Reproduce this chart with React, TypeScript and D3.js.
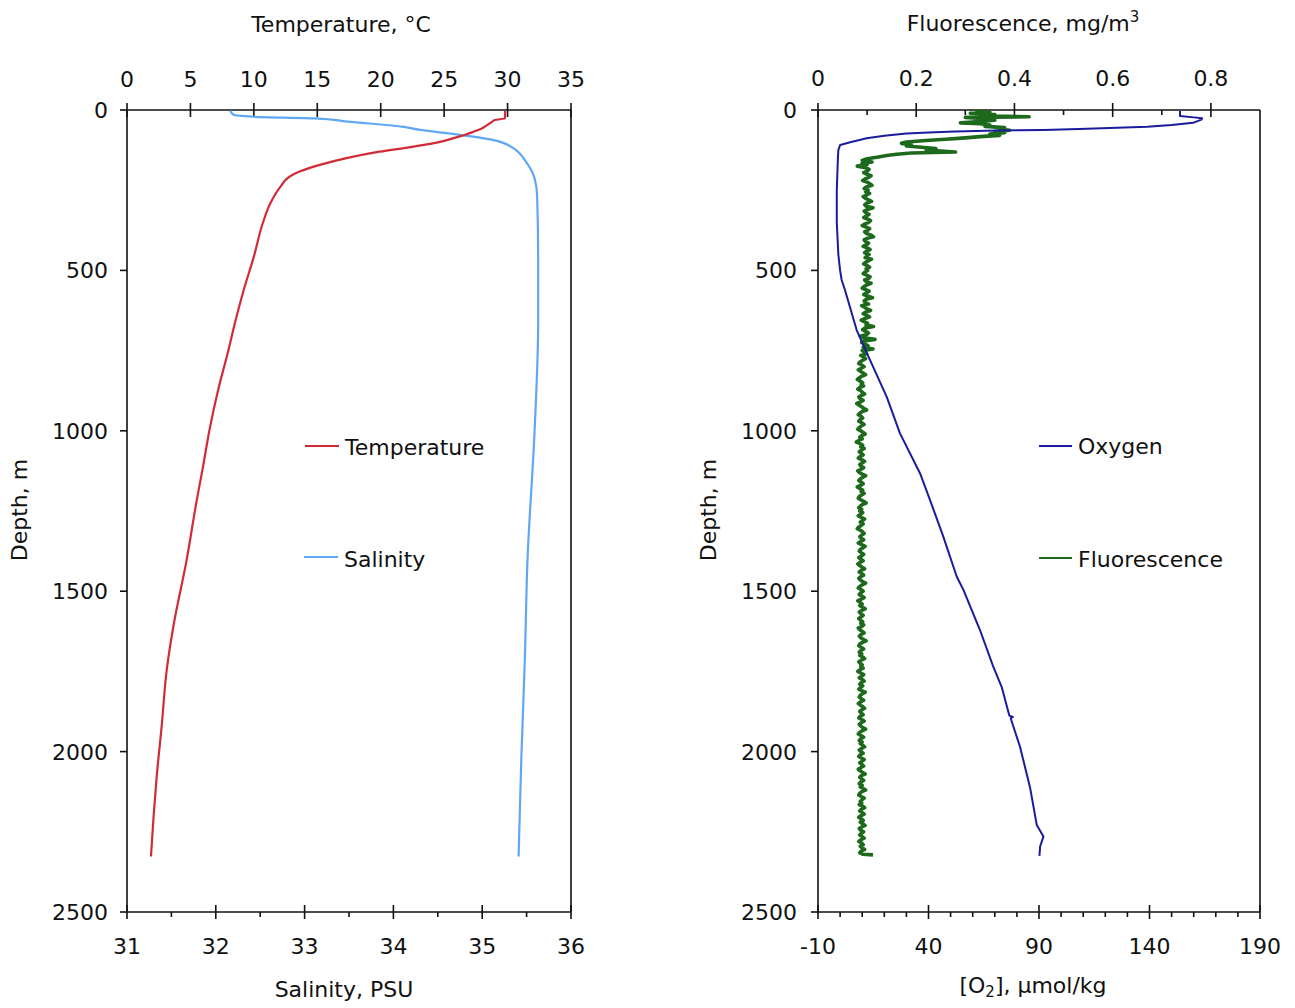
import React from "react";
import * as d3 from "d3";

// ---------- tick values ----------
const depthTicks = [0, 500, 1000, 1500, 2000, 2500];
const tempTicks = [0, 5, 10, 15, 20, 25, 30, 35];
const salTicks = [31, 32, 33, 34, 35, 36];
const salMinor = [31.5, 32.5, 33.5, 34.5, 35.5];
const fluoTicks = [0, 0.2, 0.4, 0.6, 0.8];
const fluoMinor = [0.1, 0.3, 0.5, 0.7];
const o2Ticks = [-10, 40, 90, 140, 190];
const o2Minor = [0, 10, 20, 30, 50, 60, 70, 80, 100, 110, 120, 130, 150, 160, 170, 180];

// ---------- series: [depth m, value] ----------
const temperature: [number, number][] = [
  [2, 29.8], [26, 29.8], [31, 29.0], [36, 28.8], [47, 28.4], [57, 28.0], [68, 27.3], [78, 26.6],
  [86, 25.9], [93, 25.3], [100, 24.6], [114, 22.6], [130, 19.9], [150, 17.3], [171, 15.2],
  [192, 13.6], [208, 12.8], [239, 12.1], [291, 11.3], [353, 10.7], [457, 10.0], [561, 9.2],
  [665, 8.5], [748, 8.0], [870, 7.2], [998, 6.5], [1110, 6.0], [1216, 5.5], [1403, 4.7],
  [1611, 3.65], [1746, 3.13], [1922, 2.73], [2078, 2.34], [2200, 2.1], [2327, 1.89],
];

const salinity: [number, number][] = [
  [2, 32.16], [15, 32.2], [21, 32.42], [26, 33.12], [36, 33.48], [52, 34.1], [62, 34.3],
  [72, 34.6], [83, 34.9], [94, 35.13], [104, 35.25], [119, 35.35], [135, 35.42], [156, 35.48],
  [197, 35.57], [240, 35.61], [281, 35.62], [457, 35.63], [664, 35.63], [1000, 35.59],
  [1403, 35.51], [1714, 35.48], [2026, 35.44], [2327, 35.41],
];

const oxygen: [number, number][] = [
  [3, 153.8], [19, 153.8], [23, 160], [26, 163.8], [30, 163.5], [40, 159.7], [47, 150],
  [52, 139], [56, 122], [59, 108], [62, 92], [64, 71], [67, 52], [70, 40], [73, 30],
  [80, 20], [88, 12], [100, 5], [109, 0], [125, -0.8], [150, -1], [250, -1.5], [350, -1.5],
  [450, -0.8], [500, 0], [530, 0.7], [561, 2.2], [686, 7.5], [779, 13.5], [894, 21.1],
  [1008, 27.1], [1133, 36.2], [1216, 40.7], [1330, 46.7], [1455, 52.8], [1496, 55.8],
  [1621, 63.3], [1735, 69.3], [1798, 73.1], [1888, 76.6], [1892, 78.2], [1896, 77.2],
  [1985, 81.4], [2110, 85.9], [2229, 89], [2265, 92], [2296, 90.5], [2325, 90.2],
];

const fluoSurface: [number, number][] = [
  [3, 0.32], [7, 0.35], [10, 0.31], [14, 0.36], [18, 0.33], [21, 0.43], [23, 0.30], [27, 0.34],
  [32, 0.36], [36, 0.33], [40, 0.29], [43, 0.33], [47, 0.35], [51, 0.34], [55, 0.38], [59, 0.37],
  [63, 0.39], [67, 0.36], [71, 0.38], [75, 0.35], [79, 0.37], [83, 0.33], [87, 0.30], [91, 0.26],
  [95, 0.22], [100, 0.18], [104, 0.17], [108, 0.19], [112, 0.18], [116, 0.21], [120, 0.24],
  [124, 0.22], [128, 0.25], [131, 0.28], [134, 0.19], [138, 0.16], [142, 0.14], [147, 0.12],
  [152, 0.10], [157, 0.09], [162, 0.11], [166, 0.09], [170, 0.10], [175, 0.08],
];

// deep fluorescence, sampled every 5 m from 180 m
const fluoDeepStart = 180;
const fluoDeepStep = 5;
const fluoDeep = [
  0.097, 0.104, 0.101, 0.093, 0.099, 0.108, 0.103, 0.096, 0.091, 0.100, 0.106, 0.110, 0.098, 0.094, 0.102, 0.097, 0.105, 0.099, 0.092, 0.096,
  0.103, 0.109, 0.100, 0.095, 0.098, 0.112, 0.101, 0.094, 0.097, 0.104, 0.099, 0.093, 0.101, 0.107, 0.103, 0.096, 0.090, 0.098, 0.105, 0.101,
  0.095, 0.099, 0.108, 0.113, 0.100, 0.094, 0.097, 0.103, 0.098, 0.092, 0.101, 0.106, 0.099, 0.095, 0.104, 0.100, 0.096, 0.109, 0.102, 0.097,
  0.093, 0.100, 0.105, 0.098,
  0.101, 0.096, 0.092, 0.099, 0.106, 0.103, 0.095, 0.098, 0.108, 0.100, 0.094, 0.090, 0.097, 0.104, 0.099, 0.093, 0.101, 0.111, 0.098, 0.094,
  0.096, 0.103, 0.089, 0.095, 0.100, 0.107, 0.097, 0.092, 0.099, 0.105, 0.096, 0.088, 0.094, 0.101, 0.098, 0.113, 0.095, 0.091, 0.097, 0.103,
  0.099, 0.086, 0.093, 0.116, 0.094, 0.089, 0.096, 0.102, 0.092, 0.112, 0.090, 0.095, 0.099, 0.087, 0.093, 0.097,
  0.091, 0.086, 0.083, 0.089, 0.094, 0.088, 0.082, 0.087, 0.092, 0.097, 0.089, 0.084, 0.080, 0.086, 0.091, 0.088, 0.093, 0.085, 0.081, 0.087,
  0.090, 0.095, 0.088, 0.083, 0.086, 0.092, 0.087, 0.079, 0.084, 0.089, 0.093, 0.099, 0.090, 0.085, 0.082, 0.088, 0.091, 0.086, 0.083, 0.089,
  0.094, 0.088, 0.084, 0.081, 0.087, 0.092, 0.096, 0.089, 0.085, 0.090, 0.083, 0.078, 0.086, 0.091, 0.087, 0.094, 0.089, 0.084, 0.088, 0.092,
  0.086, 0.082, 0.089, 0.095, 0.090, 0.085, 0.087, 0.093, 0.088, 0.081, 0.084, 0.090, 0.097, 0.091, 0.086, 0.083, 0.088, 0.092, 0.087, 0.080,
  0.085, 0.091, 0.088, 0.094, 0.089, 0.084, 0.082, 0.087, 0.093, 0.098, 0.090, 0.086, 0.083, 0.089, 0.085, 0.091, 0.087, 0.082, 0.088, 0.095,
  0.090, 0.086, 0.092, 0.088, 0.083, 0.080, 0.086, 0.091, 0.094, 0.089, 0.085, 0.088, 0.093, 0.087, 0.082, 0.089, 0.096, 0.091, 0.086, 0.084,
  0.088, 0.093, 0.089, 0.083, 0.087, 0.092, 0.086, 0.081, 0.085, 0.090, 0.095, 0.088, 0.084, 0.089, 0.093, 0.087, 0.083, 0.086, 0.091, 0.097,
  0.090, 0.085, 0.082, 0.088, 0.092, 0.087, 0.084, 0.089, 0.094, 0.088, 0.081, 0.086, 0.090, 0.085, 0.091, 0.096, 0.089, 0.084, 0.087, 0.092,
  0.088, 0.083, 0.086, 0.091, 0.087, 0.093, 0.089, 0.082, 0.085, 0.090, 0.094, 0.088, 0.084, 0.087, 0.092, 0.098, 0.090, 0.085, 0.083, 0.088,
  0.093, 0.087, 0.084, 0.089, 0.085, 0.091, 0.095, 0.088, 0.083, 0.086, 0.090, 0.087, 0.092, 0.085, 0.081, 0.087, 0.093, 0.089, 0.084, 0.090,
  0.094, 0.088, 0.085, 0.091, 0.087, 0.083, 0.089, 0.096, 0.090, 0.086, 0.084, 0.088, 0.093, 0.087, 0.082, 0.086, 0.091, 0.095, 0.089, 0.085,
  0.088, 0.092, 0.086, 0.083, 0.089, 0.094, 0.088, 0.084, 0.087, 0.091, 0.097, 0.090, 0.085, 0.082, 0.088, 0.093, 0.087, 0.084, 0.090, 0.086,
  0.091, 0.095, 0.089, 0.084, 0.087, 0.092, 0.086, 0.083, 0.088, 0.094, 0.090, 0.085, 0.089, 0.093, 0.087, 0.082, 0.086, 0.091, 0.096, 0.088,
  0.085, 0.089, 0.093, 0.087, 0.084, 0.090, 0.086, 0.092, 0.097, 0.089, 0.085, 0.083, 0.088, 0.094, 0.090, 0.086, 0.089, 0.084, 0.091, 0.095,
  0.088, 0.085, 0.090, 0.094, 0.087, 0.083, 0.089, 0.092, 0.086, 0.091, 0.096, 0.089, 0.084, 0.087, 0.093, 0.088, 0.085, 0.090, 0.094, 0.087,
  0.083, 0.089, 0.092, 0.086, 0.090, 0.095, 0.088, 0.085, 0.091,
];
const fluoEnd: [number, number][] = [[2322, 0.112]];

const COLORS = {
  temp: "#d22b38",
  sal: "#5fa8f4",
  oxy: "#1b1b9e",
  fluo: "#1d6a1d",
};

const FONT = "'DejaVu Sans', Verdana, sans-serif";
const FS = 22;

const W = 1295;
const H = 1008;
const yTop = 110;
const yBot = 912;

export default function App() {
  const yScale = d3.scaleLinear().domain([0, 2500]).range([yTop, yBot]);
  const L = { x0: 127, x1: 571 };
  const R = { x0: 818, x1: 1260 };
  const tScale = d3.scaleLinear().domain([0, 35]).range([L.x0, L.x1]);
  const sScale = d3.scaleLinear().domain([31, 36]).range([L.x0, L.x1]);
  const fScale = d3.scaleLinear().domain([0, 0.9]).range([R.x0, R.x1]);
  const oScale = d3.scaleLinear().domain([-10, 190]).range([R.x0, R.x1]);

  const mkLine = (xs: d3.ScaleLinear<number, number>, curve: d3.CurveFactory) =>
    d3
      .line<[number, number]>()
      .x((d) => xs(d[1]))
      .y((d) => yScale(d[0]))
      .curve(curve);

  const fluoAll: [number, number][] = [
    ...fluoSurface,
    ...fluoDeep.map((v, i) => [fluoDeepStart + i * fluoDeepStep, v] as [number, number]),
    ...fluoEnd,
  ];

  const tPath = mkLine(tScale, d3.curveMonotoneY)(temperature) || "";
  const sPath = mkLine(sScale, d3.curveMonotoneY)(salinity) || "";
  const oPath = mkLine(oScale, d3.curveLinear)(oxygen) || "";
  const fPath = mkLine(fScale, d3.curveLinear)(fluoAll) || "";

  const axisStroke = "#111";
  const axisW = 1.6;

  const depthAxis = (x0: number, labelX: number) => (
    <g>
      <line x1={x0} x2={x0} y1={yTop} y2={yBot} stroke={axisStroke} strokeWidth={axisW} />
      {depthTicks.map((t) => (
        <g key={"d" + t}>
          <line x1={x0 - 7} x2={x0} y1={yScale(t)} y2={yScale(t)} stroke={axisStroke} strokeWidth={axisW} />
          <text x={labelX} y={yScale(t)} dy="0.36em" textAnchor="end" fontSize={FS} fontFamily={FONT} fill="#111">
            {t}
          </text>
        </g>
      ))}
    </g>
  );

  return (
    <svg
      width={W}
      height={H}
      style={{ position: "absolute", left: 0, top: 0, background: "#fff" }}
      fontFamily={FONT}
    >
      <rect x={0} y={0} width={W} height={H} fill="#fff" />

      {/* ===== LEFT PANEL ===== */}
      {depthAxis(L.x0, 108)}
      <line x1={L.x1} x2={L.x1} y1={yTop} y2={yBot} stroke={axisStroke} strokeWidth={axisW} />
      {/* top temperature axis */}
      <line x1={L.x0} x2={L.x1} y1={yTop} y2={yTop} stroke={axisStroke} strokeWidth={axisW} />
      {tempTicks.map((t) => (
        <g key={"t" + t}>
          <line x1={tScale(t)} x2={tScale(t)} y1={yTop - 7} y2={yTop + 7} stroke={axisStroke} strokeWidth={axisW} />
          <text x={tScale(t)} y={87} textAnchor="middle" fontSize={FS} fill="#111">
            {t}
          </text>
        </g>
      ))}
      <text x={341} y={32} textAnchor="middle" fontSize={FS} fill="#111">
        Temperature, °C
      </text>
      {/* bottom salinity axis */}
      <line x1={L.x0} x2={L.x1} y1={yBot} y2={yBot} stroke={axisStroke} strokeWidth={axisW} />
      {salTicks.map((t) => (
        <g key={"s" + t}>
          <line x1={sScale(t)} x2={sScale(t)} y1={yBot - 7} y2={yBot + 7} stroke={axisStroke} strokeWidth={axisW} />
          <text x={sScale(t)} y={954} textAnchor="middle" fontSize={FS} fill="#111">
            {t}
          </text>
        </g>
      ))}
      {salMinor.map((t) => (
        <line key={"sm" + t} x1={sScale(t)} x2={sScale(t)} y1={yBot} y2={yBot + 5} stroke={axisStroke} strokeWidth={axisW} />
      ))}
      <text x={344} y={997} textAnchor="middle" fontSize={FS} fill="#111">
        Salinity, PSU
      </text>
      <text transform="translate(27,510) rotate(-90)" textAnchor="middle" fontSize={FS} fill="#111">
        Depth, m
      </text>

      <path d={sPath} fill="none" stroke={COLORS.sal} strokeWidth={2.2} />
      <path d={tPath} fill="none" stroke={COLORS.temp} strokeWidth={2.2} />

      {/* legend left */}
      <line x1={305} x2={339} y1={446} y2={446} stroke={COLORS.temp} strokeWidth={2.2} />
      <text x={345} y={455} fontSize={FS} fill="#111">Temperature</text>
      <line x1={304} x2={338} y1={557} y2={557} stroke={COLORS.sal} strokeWidth={2.2} />
      <text x={344} y={567} fontSize={FS} fill="#111">Salinity</text>

      {/* ===== RIGHT PANEL ===== */}
      {depthAxis(R.x0, 797)}
      <line x1={R.x1} x2={R.x1} y1={yTop} y2={yBot} stroke={axisStroke} strokeWidth={axisW} />
      {/* top fluorescence axis */}
      <line x1={R.x0} x2={R.x1} y1={yTop} y2={yTop} stroke={axisStroke} strokeWidth={axisW} />
      {fluoTicks.map((t) => (
        <g key={"f" + t}>
          <line x1={fScale(t)} x2={fScale(t)} y1={yTop - 7} y2={yTop + 7} stroke={axisStroke} strokeWidth={axisW} />
          <text x={fScale(t)} y={86} textAnchor="middle" fontSize={FS} fill="#111">
            {t === 0 ? "0" : t.toFixed(1)}
          </text>
        </g>
      ))}
      {fluoMinor.map((t) => (
        <line key={"fm" + t} x1={fScale(t)} x2={fScale(t)} y1={yTop} y2={yTop + 5} stroke={axisStroke} strokeWidth={axisW} />
      ))}
      <text x={1023} y={31} textAnchor="middle" fontSize={FS} fill="#111">
        Fluorescence, mg/m<tspan fontSize={15} dy={-9}>3</tspan>
      </text>
      {/* bottom oxygen axis */}
      <line x1={R.x0} x2={R.x1} y1={yBot} y2={yBot} stroke={axisStroke} strokeWidth={axisW} />
      {o2Ticks.map((t) => (
        <g key={"o" + t}>
          <line x1={oScale(t)} x2={oScale(t)} y1={yBot - 7} y2={yBot + 7} stroke={axisStroke} strokeWidth={axisW} />
          <text x={oScale(t)} y={954} textAnchor="middle" fontSize={FS} fill="#111">
            {t}
          </text>
        </g>
      ))}
      {o2Minor.map((t) => (
        <line key={"om" + t} x1={oScale(t)} x2={oScale(t)} y1={yBot} y2={yBot + 5} stroke={axisStroke} strokeWidth={axisW} />
      ))}
      <text x={1033} y={993} textAnchor="middle" fontSize={FS} fill="#111">
        [O<tspan fontSize={15} dy={4}>2</tspan><tspan dy={-4}>], μmol/kg</tspan>
      </text>
      <text transform="translate(716,510) rotate(-90)" textAnchor="middle" fontSize={FS} fill="#111">
        Depth, m
      </text>

      <path d={fPath} fill="none" stroke={COLORS.fluo} strokeWidth={3.6} strokeLinejoin="round" />
      <path d={oPath} fill="none" stroke={COLORS.oxy} strokeWidth={2} strokeLinejoin="round" />

      {/* legend right */}
      <line x1={1039} x2={1072} y1={446} y2={446} stroke={COLORS.oxy} strokeWidth={2.2} />
      <text x={1078} y={454} fontSize={FS} fill="#111">Oxygen</text>
      <line x1={1039} x2={1072} y1={558} y2={558} stroke={COLORS.fluo} strokeWidth={2.2} />
      <text x={1078} y={567} fontSize={FS} fill="#111">Fluorescence</text>
    </svg>
  );
}
